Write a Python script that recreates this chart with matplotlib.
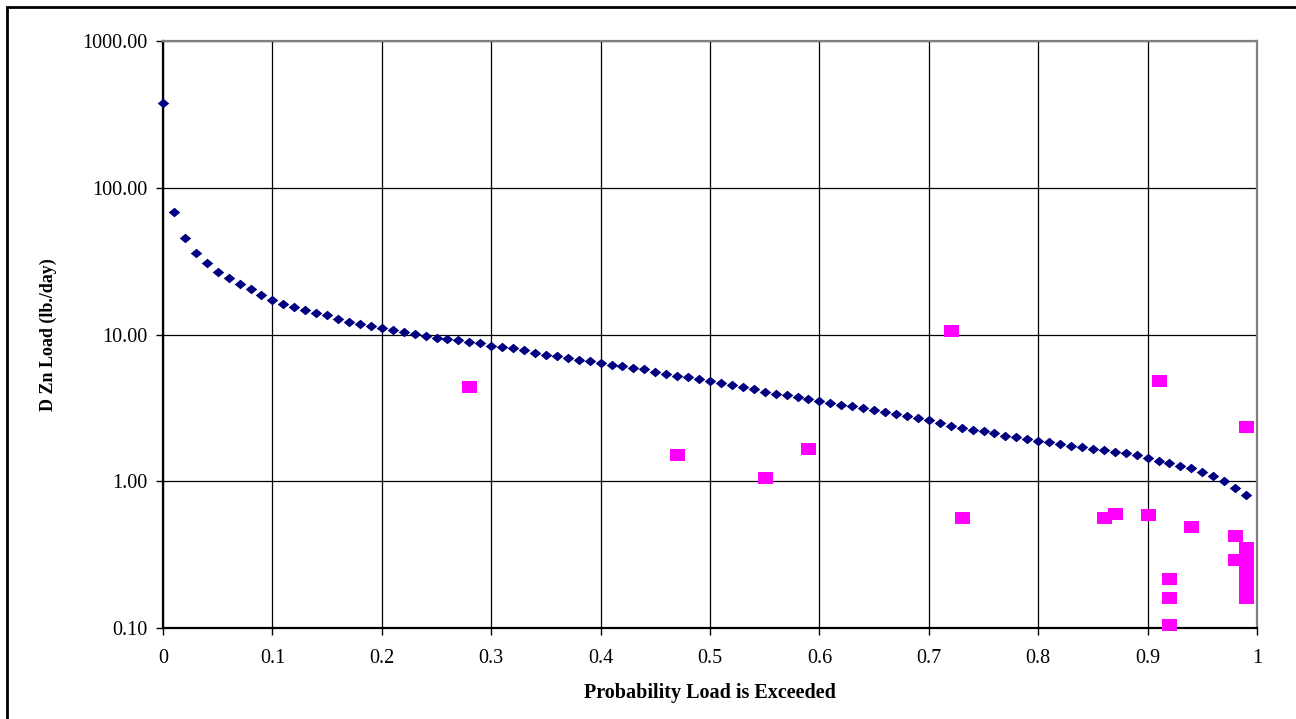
import matplotlib
matplotlib.use('Agg')
import matplotlib.pyplot as plt
from matplotlib.patches import Rectangle
from matplotlib.ticker import FixedLocator, FixedFormatter, NullLocator

plt.rcParams['font.family'] = ['Liberation Serif', 'DejaVu Serif']

# load duration curve (probability of exceedance vs. dissolved Zn load)
prob = [0.00, 0.01, 0.02, 0.03, 0.04, 0.05, 0.06, 0.07, 0.08, 0.09,
        0.10, 0.11, 0.12, 0.13, 0.14, 0.15, 0.16, 0.17, 0.18, 0.19,
        0.20, 0.21, 0.22, 0.23, 0.24, 0.25, 0.26, 0.27, 0.28, 0.29,
        0.30, 0.31, 0.32, 0.33, 0.34, 0.35, 0.36, 0.37, 0.38, 0.39,
        0.40, 0.41, 0.42, 0.43, 0.44, 0.45, 0.46, 0.47, 0.48, 0.49,
        0.50, 0.51, 0.52, 0.53, 0.54, 0.55, 0.56, 0.57, 0.58, 0.59,
        0.60, 0.61, 0.62, 0.63, 0.64, 0.65, 0.66, 0.67, 0.68, 0.69,
        0.70, 0.71, 0.72, 0.73, 0.74, 0.75, 0.76, 0.77, 0.78, 0.79,
        0.80, 0.81, 0.82, 0.83, 0.84, 0.85, 0.86, 0.87, 0.88, 0.89,
        0.90, 0.91, 0.92, 0.93, 0.94, 0.95, 0.96, 0.97, 0.98, 0.99]
load = [379, 68.8, 45.3, 35.8, 30.9, 26.6, 24.3, 22.2, 20.5, 18.5,
        17.2, 16.2, 15.4, 14.8, 14.0, 13.5, 12.8, 12.2, 11.8, 11.4,
        11.0, 10.7, 10.4, 10.05, 9.84, 9.53, 9.33, 9.14, 8.86, 8.72,
        8.40, 8.25, 8.06, 7.81, 7.53, 7.30, 7.15, 6.92, 6.75, 6.61,
        6.40, 6.24, 6.14, 5.95, 5.80, 5.59, 5.41, 5.22, 5.11, 5.00,
        4.85, 4.68, 4.53, 4.37, 4.24, 4.08, 3.96, 3.86, 3.77, 3.64,
        3.54, 3.40, 3.33, 3.24, 3.15, 3.05, 2.96, 2.86, 2.77, 2.69,
        2.61, 2.49, 2.39, 2.31, 2.25, 2.19, 2.13, 2.05, 2.00, 1.94,
        1.88, 1.85, 1.80, 1.75, 1.71, 1.67, 1.63, 1.58, 1.56, 1.51,
        1.43, 1.38, 1.33, 1.28, 1.23, 1.15, 1.09, 1.01, 0.90, 0.80]

# observed loads
obs_prob = [0.28, 0.47, 0.55, 0.59, 0.72, 0.73, 0.86, 0.87, 0.90, 0.91,
            0.92, 0.92, 0.92, 0.94, 0.98, 0.98,
            0.99, 0.99, 0.99, 0.99, 0.99, 0.99, 0.99, 0.99]
obs_load = [4.40, 1.51, 1.06, 1.65, 10.5, 0.565, 0.565, 0.60, 0.589, 4.83,
            0.216, 0.159, 0.105, 0.49, 0.426, 0.29,
            2.36, 0.35, 0.31, 0.27, 0.24, 0.20, 0.175, 0.16]

y_ticks = [0.1, 1, 10, 100, 1000]
x_ticks = [0, 0.1, 0.2, 0.3, 0.4, 0.5, 0.6, 0.7, 0.8, 0.9, 1]
x_labels = ['0', '0.1', '0.2', '0.3', '0.4', '0.5', '0.6', '0.7', '0.8', '0.9', '1']

fig = plt.figure(figsize=(12.96, 7.19), dpi=100)
ax = fig.add_axes([163/1296, 1 - 628/719, (1257-163)/1296, (628-41)/719])

diamond = [(0, 1), (1.2, 0), (0, -1), (-1.2, 0), (0, 1)]
rect = [(-1.25, -1), (1.25, -1), (1.25, 1), (-1.25, 1), (-1.25, -1)]

ax.plot(prob, load, linestyle='none', marker=diamond, markersize=8.3,
        color='#000080', markeredgewidth=0, zorder=3, clip_on=False)
ax.plot(obs_prob, obs_load, linestyle='none', marker=rect, markersize=10.8,
        color='#FF00FF', markeredgewidth=0, zorder=4, clip_on=False)

ax.set_yscale('log')
ax.set_xlim(0, 1)
ax.set_ylim(0.1, 1000)
ax.yaxis.set_major_locator(FixedLocator(y_ticks))
ax.yaxis.set_major_formatter(FixedFormatter(['%.2f' % v for v in y_ticks]))
ax.yaxis.set_minor_locator(NullLocator())
ax.xaxis.set_major_locator(FixedLocator(x_ticks))
ax.xaxis.set_major_formatter(FixedFormatter(x_labels))

ax.grid(True, color='black', linewidth=0.9)
ax.set_axisbelow(True)
ax.tick_params(axis='both', direction='out', length=5, width=1, labelsize=14.5, colors='black')
ax.tick_params(axis='y', pad=6)
ax.tick_params(axis='x', pad=10)

for s in ['left', 'bottom']:
    ax.spines[s].set_color('black')
    ax.spines[s].set_linewidth(1.6)
for s in ['top', 'right']:
    ax.spines[s].set_color('#808080')
    ax.spines[s].set_linewidth(1.6)

ax.set_xlabel('Probability Load is Exceeded', fontsize=14.5, fontweight='bold', labelpad=11)
ax.set_ylabel('D Zn Load (lb./day)', fontsize=13, fontweight='bold', labelpad=18)

# chart area frame (clipped at right and bottom like the source)
fig.patches.append(Rectangle((7/1296, -0.05), 1.2, 1 - 7/719 + 0.05, fill=False,
                             edgecolor='black', linewidth=2, transform=fig.transFigure))

fig.savefig('out.png', dpi=100)
